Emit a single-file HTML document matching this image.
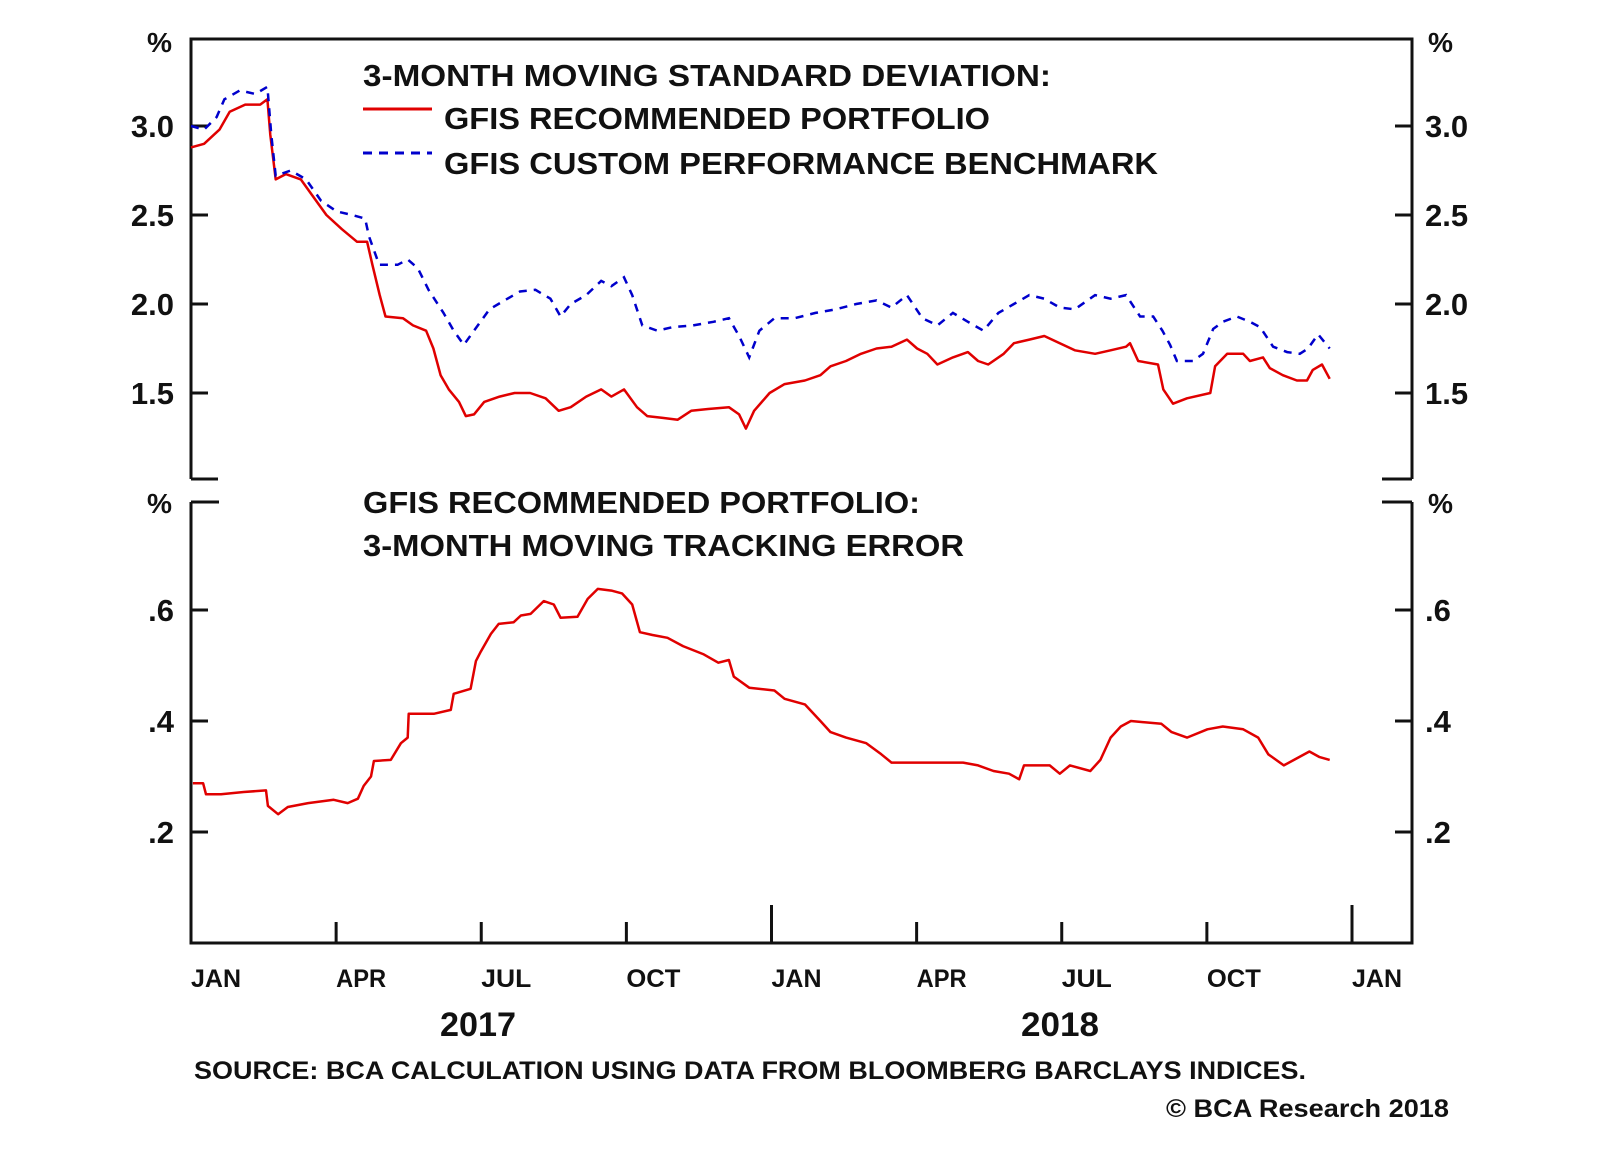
<!DOCTYPE html>
<html><head><meta charset="utf-8"><style>
html,body{margin:0;padding:0;background:#fff;}
svg{display:block;font-family:"Liberation Sans",Arial,sans-serif;font-weight:bold;}
</style></head><body>
<svg id="chart" width="1600" height="1152" viewBox="0 0 1600 1152" xmlns="http://www.w3.org/2000/svg">
<rect width="1600" height="1152" fill="#fff"/>
<g id="frame" stroke="#111" stroke-width="3" fill="none">
  <path d="M191,479 L191,39 L1412,39 L1412,479"/>
  <path d="M191,479 L218,479 M1382,479 L1412,479"/>
  <path d="M191,502 L191,943 L1412,943 L1412,502"/>
  <path d="M191,502 L219,502 M1382,502 L1412,502"/>
</g>
<g id="ticks" stroke="#111" stroke-width="3"></g>
<g id="labels" fill="#111">
  <text x="147" y="52" font-size="28" textLength="25" lengthAdjust="spacingAndGlyphs">%</text>
  <text x="1428" y="52" font-size="28" textLength="25" lengthAdjust="spacingAndGlyphs">%</text>
  <text x="147" y="513" font-size="28" textLength="25" lengthAdjust="spacingAndGlyphs">%</text>
  <text x="1428" y="513" font-size="28" textLength="25" lengthAdjust="spacingAndGlyphs">%</text>
  <text x="363" y="86" font-size="31" textLength="688" lengthAdjust="spacingAndGlyphs">3-MONTH MOVING STANDARD DEVIATION:</text>
  <line x1="363" y1="109" x2="432" y2="109" stroke="#e00000" stroke-width="3"/>
  <text x="444" y="129" font-size="31" textLength="546" lengthAdjust="spacingAndGlyphs">GFIS RECOMMENDED PORTFOLIO</text>
  <line x1="363" y1="153" x2="432" y2="153" stroke="#0000cc" stroke-width="3" stroke-dasharray="9,7"/>
  <text x="444" y="174" font-size="31" textLength="714" lengthAdjust="spacingAndGlyphs">GFIS CUSTOM PERFORMANCE BENCHMARK</text>
  <text x="363" y="513" font-size="31" textLength="557" lengthAdjust="spacingAndGlyphs">GFIS RECOMMENDED PORTFOLIO:</text>
  <text x="363" y="556" font-size="31" textLength="601" lengthAdjust="spacingAndGlyphs">3-MONTH MOVING TRACKING ERROR</text>
  <text x="440" y="1036" font-size="34" textLength="76" lengthAdjust="spacingAndGlyphs">2017</text>
  <text x="1021" y="1036" font-size="34" textLength="78" lengthAdjust="spacingAndGlyphs">2018</text>
  <text x="194" y="1079" font-size="25" textLength="1112" lengthAdjust="spacingAndGlyphs">SOURCE: BCA CALCULATION USING DATA FROM BLOOMBERG BARCLAYS INDICES.</text>
  <text x="1166" y="1117" font-size="25" textLength="283" lengthAdjust="spacingAndGlyphs">© BCA Research 2018</text>
</g>
<g id="series" fill="none"></g>
</svg>
<script>
// Top panel: 3-month moving standard deviation (x = months since Jan 2017)
const stdMonths = [0,.27,.59,.8,1.12,1.43,1.58,1.64,1.75,1.96,2.27,2.48,2.8,3.12,3.43,3.64,3.75,3.9,4.02,4.38,4.59,4.86,5.01,5.16,5.33,5.54,5.68,5.85,6.06,6.38,6.69,7.01,7.33,7.6,7.85,8.17,8.48,8.69,8.95,9.22,9.43,9.75,10.06,10.34,10.69,11.12,11.33,11.47,11.64,11.96,12.27,12.69,13.01,13.22,13.54,13.85,14.17,14.48,14.8,15.01,15.22,15.43,15.75,16.06,16.27,16.48,16.8,17.01,17.33,17.64,17.96,18.27,18.69,19.01,19.33,19.41,19.58,19.99,20.1,20.3,20.59,21.07,21.17,21.42,21.75,21.89,22.16,22.3,22.57,22.86,23.07,23.19,23.38,23.54];
const portfolioStd = [2.88,2.90,2.98,3.08,3.12,3.12,3.15,2.95,2.70,2.73,2.70,2.62,2.50,2.42,2.35,2.35,2.22,2.05,1.93,1.92,1.88,1.85,1.75,1.60,1.52,1.45,1.37,1.38,1.45,1.48,1.50,1.50,1.47,1.40,1.42,1.48,1.52,1.48,1.52,1.42,1.37,1.36,1.35,1.40,1.41,1.42,1.38,1.30,1.40,1.50,1.55,1.57,1.60,1.65,1.68,1.72,1.75,1.76,1.80,1.75,1.72,1.66,1.70,1.73,1.68,1.66,1.72,1.78,1.80,1.82,1.78,1.74,1.72,1.74,1.76,1.78,1.68,1.66,1.52,1.44,1.47,1.50,1.65,1.72,1.72,1.68,1.70,1.64,1.60,1.57,1.57,1.63,1.66,1.58];
const benchMonths = [0,.27,.53,.69,1.01,1.33,1.58,1.66,1.75,2.06,2.38,2.69,3.01,3.33,3.6,3.68,3.89,4.27,4.48,4.69,4.91,5.22,5.43,5.64,5.85,6.17,6.48,6.8,7.12,7.43,7.64,7.85,8.17,8.48,8.69,8.95,9.12,9.33,9.64,9.96,10.38,10.8,11.12,11.33,11.54,11.75,12.06,12.48,12.91,13.33,13.75,14.17,14.48,14.8,15.12,15.43,15.75,16.06,16.38,16.69,17.01,17.33,17.64,17.96,18.27,18.69,19.01,19.33,19.62,19.89,20.08,20.24,20.38,20.71,20.92,21.13,21.33,21.62,21.89,22.1,22.37,22.66,22.92,23.09,23.3,23.54];
const benchmarkStd = [3.00,2.98,3.05,3.15,3.20,3.18,3.22,2.95,2.72,2.75,2.70,2.58,2.52,2.50,2.48,2.38,2.22,2.22,2.25,2.20,2.08,1.95,1.85,1.77,1.85,1.97,2.02,2.07,2.08,2.03,1.93,2.00,2.05,2.13,2.10,2.15,2.05,1.88,1.85,1.87,1.88,1.90,1.92,1.82,1.70,1.85,1.92,1.92,1.95,1.97,2.00,2.02,1.98,2.05,1.92,1.88,1.95,1.90,1.85,1.95,2.00,2.05,2.03,1.98,1.97,2.05,2.03,2.05,1.93,1.93,1.85,1.77,1.68,1.68,1.72,1.86,1.90,1.93,1.90,1.87,1.76,1.73,1.72,1.75,1.83,1.75];
// Bottom panel: tracking error
const teMonths = [.04,.25,.31,.62,1.09,1.55,1.59,1.8,2.0,2.42,2.95,3.24,3.45,3.57,3.72,3.78,4.13,4.34,4.48,4.5,5.02,5.37,5.43,5.78,5.89,5.99,6.2,6.36,6.67,6.82,7.02,7.29,7.5,7.64,7.99,8.2,8.41,8.69,8.91,9.12,9.28,9.54,9.85,10.17,10.6,10.9,11.12,11.22,11.54,12.06,12.27,12.69,13.01,13.22,13.54,13.96,14.27,14.48,14.91,15.43,15.96,16.27,16.59,16.91,17.12,17.22,17.75,17.96,18.17,18.59,18.8,19.01,19.22,19.43,20.06,20.27,20.59,21.01,21.33,21.75,22.06,22.27,22.59,22.8,23.12,23.33,23.54];
const trackingError = [.288,.288,.268,.268,.272,.275,.247,.232,.245,.252,.258,.252,.26,.283,.30,.328,.33,.36,.37,.413,.413,.42,.449,.458,.508,.525,.557,.575,.578,.59,.593,.616,.61,.586,.588,.62,.638,.635,.63,.61,.56,.555,.55,.535,.52,.505,.51,.48,.46,.455,.44,.43,.40,.38,.37,.36,.34,.325,.325,.325,.325,.32,.31,.305,.295,.32,.32,.305,.32,.31,.33,.37,.39,.40,.395,.38,.37,.385,.39,.385,.37,.34,.32,.33,.345,.335,.33];
const topTicks = [1.5,2.0,2.5,3.0];
const topTickLabels = ["1.5","2.0","2.5","3.0"];
const botTicks = [0.2,0.4,0.6];
const botTickLabels = [".2",".4",".6"];
const xTickMonths = [0,3,6,9,12,15,18,21,24];
const xTickLabels = ["JAN","APR","JUL","OCT","JAN","APR","JUL","OCT","JAN"];

const NS = "http://www.w3.org/2000/svg";
const xs = m => 191 + m * (1352 - 191) / 24;
const yTop = v => 393 - (v - 1.5) * 178;
const yBot = v => 943 - v * 555;

function mk(tag, attrs, parent) {
  const el = document.createElementNS(NS, tag);
  for (const k in attrs) el.setAttribute(k, attrs[k]);
  parent.appendChild(el);
  return el;
}
const ticks = document.getElementById('ticks');
const labels = document.getElementById('labels');
const series = document.getElementById('series');

topTicks.forEach((v, i) => {
  const y = yTop(v);
  let t = mk('path', {d: `M191,${y} H208 M1395,${y} H1412`}, ticks);
  
  
  let a = mk('text', {x: 174, y: y + 11, 'font-size': 31, 'text-anchor': 'end'}, labels);
  a.textContent = topTickLabels[i];
  
  
  let b = mk('text', {x: 1425, y: y + 11, 'font-size': 31}, labels);
  b.textContent = topTickLabels[i];
  
  
});
botTicks.forEach((v, i) => {
  const y = yBot(v);
  let t = mk('path', {d: `M191,${y} H208 M1395,${y} H1412`}, ticks);
  
  
  let a = mk('text', {x: 174, y: y + 11, 'font-size': 31, 'text-anchor': 'end'}, labels);
  a.textContent = botTickLabels[i];
  
  
  let b = mk('text', {x: 1425, y: y + 11, 'font-size': 31}, labels);
  b.textContent = botTickLabels[i];
  
  
});
xTickMonths.forEach((m, i) => {
  const x = xs(m);
  if (m > 0) {
    const len = (m % 12 === 0) ? 38 : 21;
    let t = mk('line', {x1: x, y1: 943, x2: x, y2: 943 - len}, ticks);
    
    
  }
  let l = mk('text', {x: x, y: 987, 'font-size': 25, textLength: xTickLabels[i] === 'OCT' ? 54 : 50, lengthAdjust: 'spacingAndGlyphs'}, labels);
  l.textContent = xTickLabels[i];
  
  
});

function pathFor(ms, vs, yf) {
  return ms.map((m, i) => (i ? 'L' : 'M') + xs(m).toFixed(1) + ',' + yf(vs[i]).toFixed(1)).join(' ');
}
let p1 = mk('path', {d: pathFor(stdMonths, portfolioStd, yTop), stroke: '#e00000', 'stroke-width': 2.5, 'stroke-linejoin': 'round'}, series);


let p2 = mk('path', {d: pathFor(benchMonths, benchmarkStd, yTop), stroke: '#0000cc', 'stroke-width': 2.5, 'stroke-dasharray': '8,7'}, series);


let p3 = mk('path', {d: pathFor(teMonths, trackingError, yBot), stroke: '#e00000', 'stroke-width': 2.5, 'stroke-linejoin': 'round'}, series);


</script>
</body></html>
